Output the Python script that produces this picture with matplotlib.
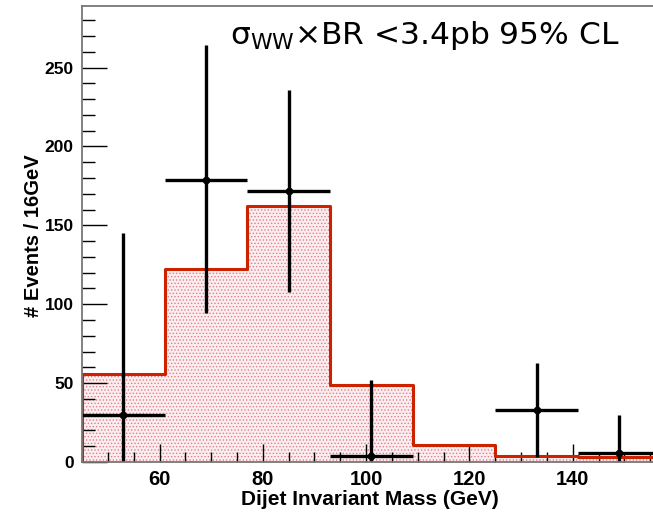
import numpy as np
import matplotlib.pyplot as plt
from matplotlib.ticker import MultipleLocator

# binning: 16 GeV bins
edges = [45, 61, 77, 93, 109, 125, 141, 157]
# fitted expectation per bin
expected = [56, 122, 162, 49, 10.5, 4, 3]
# observed points (bin at 117 is empty, not drawn)
centers = [53, 69, 85, 101, 133, 149]
observed = [30, 178.5, 171.5, 4, 33, 6]
err_low = [30, 84, 64, 4, 30, 6]
err_high = [115, 85.5, 64, 48, 30, 24]

plt.rcParams['font.family'] = ['Liberation Sans', 'DejaVu Sans']
plt.rcParams['hatch.color'] = '#d9596a'
plt.rcParams['hatch.linewidth'] = 0.6

fig = plt.figure(figsize=(6.53, 5.12), dpi=100)
ax = fig.add_axes([0.1256, 0.0977, 0.886, 0.8906])

# histogram: filled dotted area + red step outline
x_step = np.repeat(edges, 2)[1:-1]
y_step = np.repeat(expected, 2)
ax.fill_between(x_step, 0, y_step, facecolor='#fbeef0', edgecolor='#e07d8a',
                hatch='.....', linewidth=0)
ax.plot(np.concatenate([[edges[0]], x_step, [edges[-1]]]),
        np.concatenate([[0], y_step, [0]]), color='#cc2200', lw=2.2)

# data points with bin-width x errors
ax.errorbar(centers, observed, xerr=8, yerr=[err_low, err_high],
            fmt='o', color='black', ms=4.5, elinewidth=2.4, capsize=0)

ax.set_xlim(45, 157)
ax.set_ylim(0, 289)
ax.xaxis.set_major_locator(MultipleLocator(20))
ax.xaxis.set_minor_locator(MultipleLocator(5))
ax.yaxis.set_major_locator(MultipleLocator(50))
ax.yaxis.set_minor_locator(MultipleLocator(10))
ax.tick_params(which='both', direction='in', top=False, right=False,
               color='black', width=1)
ax.tick_params(axis='x', which='major', length=13, labelsize=14.5, pad=6)
ax.tick_params(axis='y', which='major', length=18, labelsize=12.5, pad=6)
ax.tick_params(axis='y', which='minor', length=9)
ax.tick_params(axis='x', which='minor', length=7)
for lab in ax.get_xticklabels() + ax.get_yticklabels():
    lab.set_fontweight('bold')
for s in ax.spines.values():
    s.set_color('#777777')
    s.set_linewidth(1.3)

ax.set_xlabel('Dijet Invariant Mass (GeV)', fontsize=15, fontweight='bold')
ax.set_ylabel('# Events / 16GeV', fontsize=14.5, fontweight='bold')
ax.xaxis.set_label_coords(0.498, -0.061)
ax.yaxis.set_label_coords(-0.067, 0.496)

fig.text(0.352, 0.915, r'$\mathregular{σ_{WW}}$' + '×BR <3.4pb 95% CL',
         fontsize=22.5, family=['DejaVu Sans'], va='baseline')

fig.savefig('out.png', dpi=100)
